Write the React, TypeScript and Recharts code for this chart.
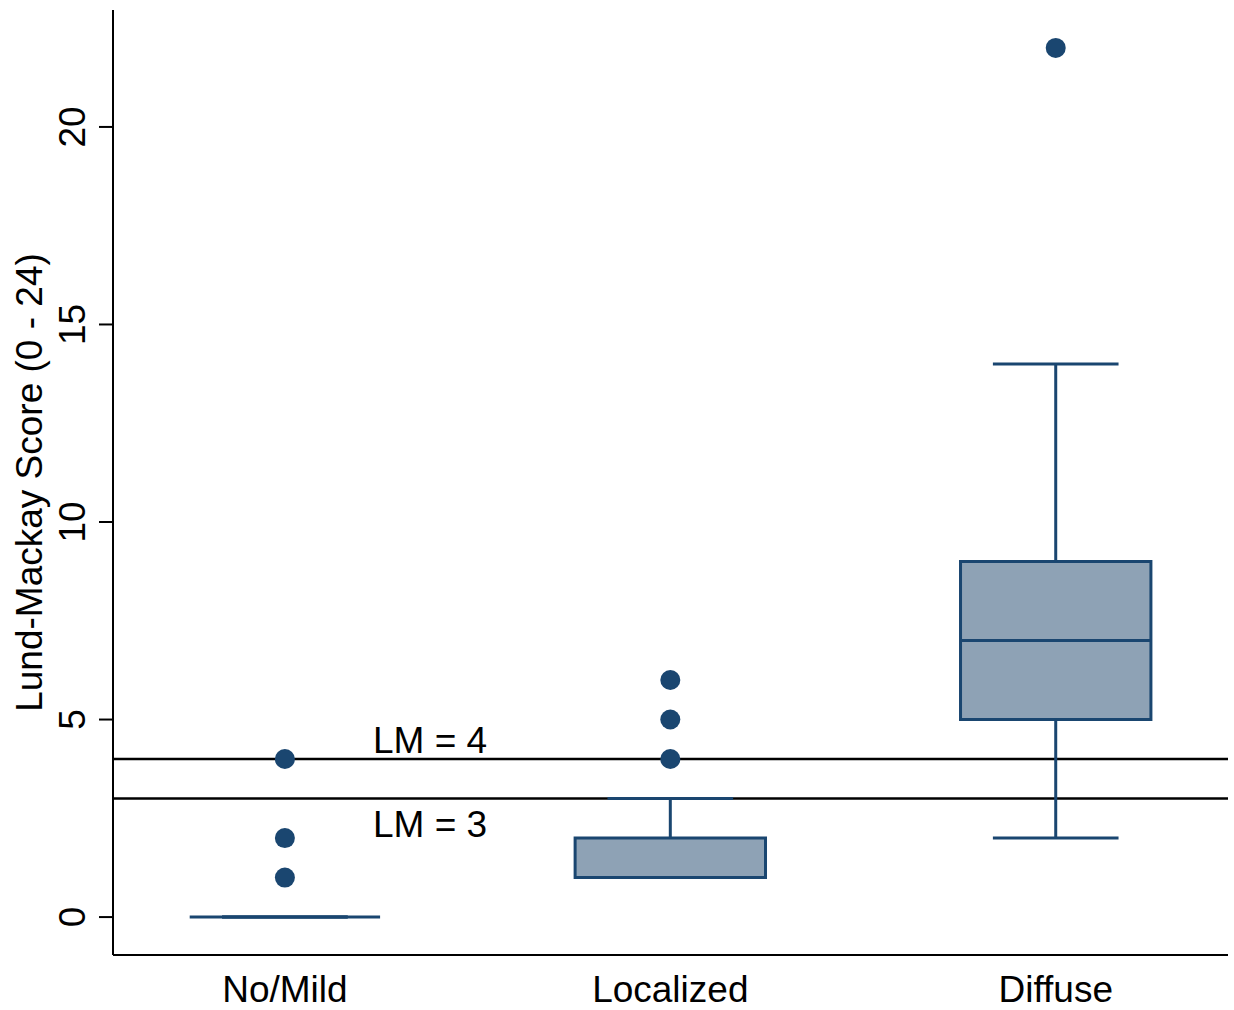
import {
  ComposedChart,
  ReferenceArea,
  ReferenceLine,
  Scatter,
  XAxis,
  YAxis,
} from 'recharts';

const categories = ['No/Mild', 'Localized', 'Diffuse'];
const lowerWhisker = [0, 1, 2];
const q1 = [0, 1, 5];
const median = [0, 1, 7];
const q3 = [0, 2, 9];
const upperWhisker = [0, 3, 14];
const outliers = [[1, 2, 4], [4, 5, 6], [22]];
const yTicks = [0, 5, 10, 15, 20];
const cutoffs = [4, 3];
const cutoffLabels = ['LM = 4', 'LM = 3'];

const NAVY = '#1A4670';
const BOX_FILL = '#8EA2B5';
const FONT = '"Liberation Sans", Arial, sans-serif';
const FONT_SIZE = 37;
const BOX_HALF = 0.247;
const CAP_HALF = 0.163;

const outlierPoints = outliers.flatMap((vals, i) => vals.map((y) => ({ x: i + 1, y })));

function YTick(props: any) {
  const { x, y, payload } = props;
  return (
    <text
      x={x}
      y={y}
      transform={`rotate(-90 ${x} ${y})`}
      textAnchor="middle"
      fontSize={FONT_SIZE}
      fontFamily={FONT}
      fill="#000"
    >
      {payload.value}
    </text>
  );
}

function XTick(props: any) {
  const { x, y, payload } = props;
  return (
    <text x={x} y={y + 47} textAnchor="middle" fontSize={FONT_SIZE} fontFamily={FONT} fill="#000">
      {categories[payload.value - 1]}
    </text>
  );
}

export default function App() {
  return (
    <div style={{ position: 'absolute', left: 0, top: 0, width: 1234, height: 1010, background: '#fff' }}>
      <ComposedChart width={1234} height={1010} margin={{ top: 10, right: 6, bottom: 0, left: 0 }}>
        <XAxis
          type="number"
          dataKey="x"
          domain={[0.554, 3.447]}
          ticks={[1, 2, 3]}
          allowDataOverflow
          height={55}
          tickLine={false}
          tickSize={0}
          tickMargin={0}
          axisLine={{ stroke: '#000', strokeWidth: 2 }}
          tick={<XTick />}
        />
        <YAxis
          type="number"
          dataKey="y"
          domain={[-0.96, 22.96]}
          ticks={yTicks}
          allowDataOverflow
          width={113}
          tickSize={14}
          tickMargin={14}
          tickLine={{ stroke: '#000', strokeWidth: 2 }}
          axisLine={{ stroke: '#000', strokeWidth: 2 }}
          tick={<YTick />}
          label={(props: any) => {
            const vb = props.viewBox;
            const cx = vb.x + 42;
            const cy = vb.y + vb.height / 2;
            return (
              <text
                x={cx}
                y={cy}
                transform={`rotate(-90 ${cx} ${cy})`}
                textAnchor="middle"
                fontSize={FONT_SIZE}
                fontFamily={FONT}
                fill="#000"
              >
                Lund-Mackay Score (0 - 24)
              </text>
            );
          }}
        />

        {cutoffs.map((v, i) => (
          <ReferenceLine
            key={`cut-${v}`}
            y={v}
            stroke="#000"
            strokeWidth={2.5}
            label={(props: any) => {
              const vb = props.viewBox;
              const above = i === 0;
              return (
                <text
                  x={vb.x + 260}
                  y={above ? vb.y - 6 : vb.y + 38}
                  fontSize={FONT_SIZE}
                  fontFamily={FONT}
                  fill="#000"
                >
                  {cutoffLabels[i]}
                </text>
              );
            }}
          />
        ))}

        {categories.map((c, i) => {
          const x = i + 1;
          return [
            <ReferenceLine
              key={`wu-${c}`}
              segment={[{ x, y: q3[i] }, { x, y: upperWhisker[i] }]}
              stroke={NAVY}
              strokeWidth={3}
            />,
            <ReferenceLine
              key={`wl-${c}`}
              segment={[{ x, y: q1[i] }, { x, y: lowerWhisker[i] }]}
              stroke={NAVY}
              strokeWidth={3}
            />,
            <ReferenceLine
              key={`cu-${c}`}
              segment={[{ x: x - CAP_HALF, y: upperWhisker[i] }, { x: x + CAP_HALF, y: upperWhisker[i] }]}
              stroke={NAVY}
              strokeWidth={3}
            />,
            <ReferenceLine
              key={`cl-${c}`}
              segment={[{ x: x - CAP_HALF, y: lowerWhisker[i] }, { x: x + CAP_HALF, y: lowerWhisker[i] }]}
              stroke={NAVY}
              strokeWidth={3}
            />,
            <ReferenceArea
              key={`box-${c}`}
              x1={x - BOX_HALF}
              x2={x + BOX_HALF}
              y1={q1[i]}
              y2={q3[i]}
              fill={BOX_FILL}
              fillOpacity={1}
              stroke={NAVY}
              strokeWidth={3}
            />,
            <ReferenceLine
              key={`md-${c}`}
              segment={[{ x: x - BOX_HALF, y: median[i] }, { x: x + BOX_HALF, y: median[i] }]}
              stroke={NAVY}
              strokeWidth={3}
            />,
          ];
        })}

        <Scatter
          data={outlierPoints}
          dataKey="y"
          isAnimationActive={false}
          shape={(props: any) => <circle cx={props.cx} cy={props.cy} r={10} fill={NAVY} />}
        />
      </ComposedChart>
    </div>
  );
}
